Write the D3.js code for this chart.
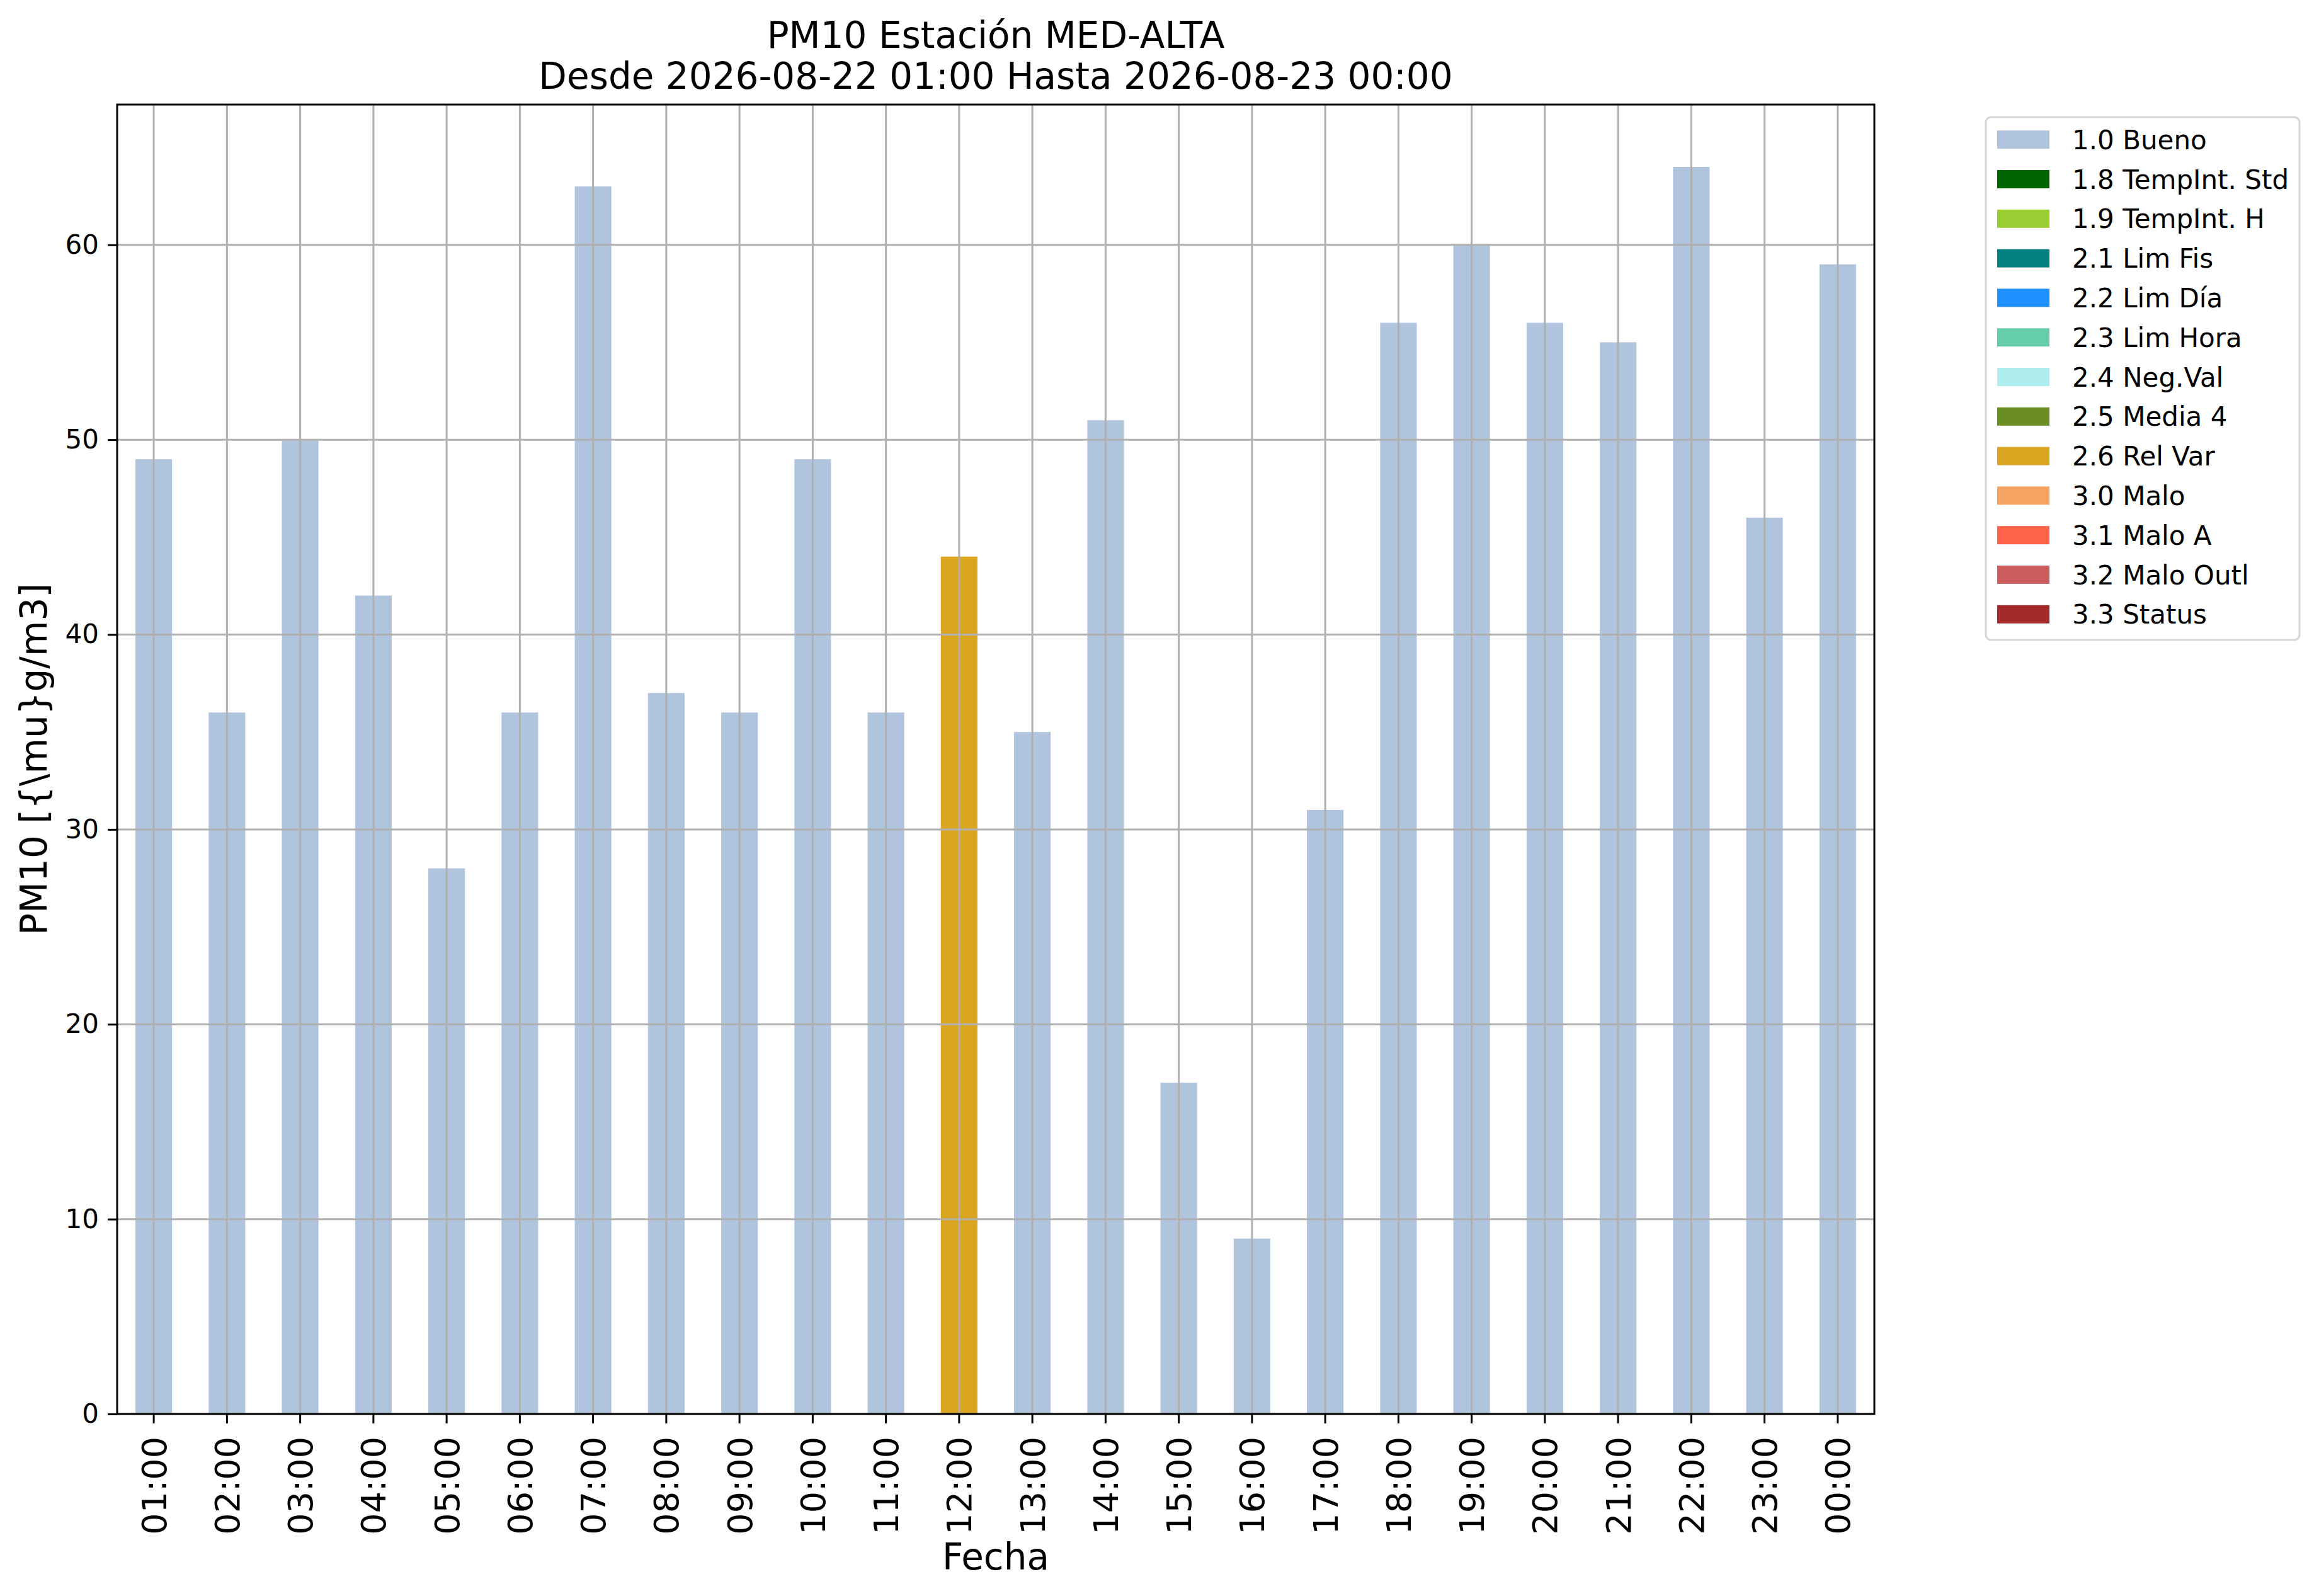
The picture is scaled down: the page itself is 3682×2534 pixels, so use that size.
<!DOCTYPE html>
<html>
<head>
<meta charset="utf-8">
<script src="https://cdn.jsdelivr.net/npm/d3@7"></script>
<style>
  body { margin: 0; background: #fff; }
  text { font-family: "DejaVu Sans", sans-serif; fill: #000; }
</style>
</head>
<body>
<svg id="chart" width="3682" height="2534"></svg>
<script>
var hours = ["01:00", "02:00", "03:00", "04:00", "05:00", "06:00", "07:00", "08:00",
             "09:00", "10:00", "11:00", "12:00", "13:00", "14:00", "15:00", "16:00",
             "17:00", "18:00", "19:00", "20:00", "21:00", "22:00", "23:00", "00:00"];
var pm10 = [49, 36, 50, 42, 28, 36, 63, 37, 36, 49, 36, 44,
            35, 51, 17, 9, 31, 56, 60, 56, 55, 64, 46, 59];
// quality flag of each hour
var flags = ["1.0", "1.0", "1.0", "1.0", "1.0", "1.0", "1.0", "1.0", "1.0", "1.0", "1.0", "2.6",
             "1.0", "1.0", "1.0", "1.0", "1.0", "1.0", "1.0", "1.0", "1.0", "1.0", "1.0", "1.0"];

var flagCodes = ["1.0", "1.8", "1.9", "2.1", "2.2", "2.3", "2.4", "2.5", "2.6", "3.0", "3.1", "3.2", "3.3"];
var flagNames = ["1.0 Bueno", "1.8 TempInt. Std", "1.9 TempInt. H", "2.1 Lim Fis", "2.2 Lim Día",
                 "2.3 Lim Hora", "2.4 Neg.Val", "2.5 Media 4", "2.6 Rel Var", "3.0 Malo",
                 "3.1 Malo A", "3.2 Malo Outl", "3.3 Status"];
var flagColors = ["#b0c4de", "#006400", "#9acd32", "#008080", "#1e90ff", "#66cdaa", "#afeeee",
                  "#6b8e23", "#daa520", "#f4a460", "#ff6347", "#cd5c5c", "#a52a2a"];
var yTicks = [0, 10, 20, 30, 40, 50, 60];

// plot box (window.top is taken, so no plain "top")
var pLeft = 186, pRight = 2976, pTop = 166, pBottom = 2245;
var svg = d3.select("#chart");

var x = d3.scaleBand()
  .domain(hours)
  .range([pLeft, pRight])
  .paddingInner(0.5)
  .paddingOuter(0.25);
var y = d3.scaleLinear()
  .domain([0, d3.max(pm10) * 1.05])
  .range([pBottom, pTop]);
var color = d3.scaleOrdinal()
  .domain(flagCodes)
  .range(flagColors);

// bars
svg.append("g")
  .selectAll("rect")
  .data(hours)
  .enter().append("rect")
  .attr("x", function(d) { return x(d); })
  .attr("width", x.bandwidth())
  .attr("y", function(d, i) { return y(pm10[i]); })
  .attr("height", function(d, i) { return y(0) - y(pm10[i]); })
  .attr("fill", function(d, i) { return color(flags[i]); });

// grid on top of the bars, like matplotlib does
var grid = svg.append("g")
  .attr("stroke", "#b0b0b0")
  .attr("stroke-width", 3);
grid.selectAll("line.gx")
  .data(hours)
  .enter().append("line")
  .attr("class", "gx")
  .attr("x1", function(d) { return x(d) + x.bandwidth() / 2; })
  .attr("x2", function(d) { return x(d) + x.bandwidth() / 2; })
  .attr("y1", pTop)
  .attr("y2", pBottom);
grid.selectAll("line.gy")
  .data(yTicks)
  .enter().append("line")
  .attr("class", "gy")
  .attr("x1", pLeft)
  .attr("x2", pRight)
  .attr("y1", function(d) { return y(d); })
  .attr("y2", function(d) { return y(d); });

// axes
var xAxis = svg.append("g")
  .attr("transform", "translate(0," + pBottom + ")")
  .call(d3.axisBottom(x).tickSize(15).tickSizeOuter(0));
xAxis.select(".domain").remove();
xAxis.selectAll(".tick line").attr("stroke", "#000").attr("stroke-width", 3);
xAxis.selectAll(".tick text")
  .attr("font-family", "DejaVu Sans")
  .attr("font-size", 54)
  .attr("transform", "rotate(-90)")
  .attr("text-anchor", "end")
  .attr("x", -36)
  .attr("y", 0)
  .attr("dy", "0.36em");

var yAxis = svg.append("g")
  .attr("transform", "translate(" + pLeft + ",0)")
  .call(d3.axisLeft(y).tickValues(yTicks).tickSize(15).tickPadding(14).tickSizeOuter(0));
yAxis.select(".domain").remove();
yAxis.selectAll(".tick line").attr("stroke", "#000").attr("stroke-width", 3);
yAxis.selectAll(".tick text")
  .attr("font-family", "DejaVu Sans")
  .attr("font-size", 42);

svg.append("rect")
  .attr("x", pLeft)
  .attr("y", pTop)
  .attr("width", pRight - pLeft)
  .attr("height", pBottom - pTop)
  .attr("fill", "none")
  .attr("stroke", "#000")
  .attr("stroke-width", 3);

// titles and labels
var cx = (pLeft + pRight) / 2;
svg.append("text")
  .attr("x", cx)
  .attr("y", 76)
  .attr("text-anchor", "middle")
  .attr("font-size", 58)
  .text("PM10 Estación MED-ALTA");
svg.append("text")
  .attr("x", cx)
  .attr("y", 141)
  .attr("text-anchor", "middle")
  .attr("font-size", 58)
  .text("Desde 2026-08-22 01:00 Hasta 2026-08-23 00:00");
svg.append("text")
  .attr("x", cx)
  .attr("y", 2492)
  .attr("text-anchor", "middle")
  .attr("font-size", 58)
  .text("Fecha");
svg.append("text")
  .attr("transform", "translate(74," + ((pTop + pBottom) / 2) + ") rotate(-90)")
  .attr("text-anchor", "middle")
  .attr("font-size", 58)
  .text("PM10 [{\\mu}g/m3]");

// legend
var legend = svg.append("g");
legend.append("rect")
  .attr("x", 3153)
  .attr("y", 186)
  .attr("width", 3651 - 3153)
  .attr("height", 1016 - 186)
  .attr("rx", 8)
  .attr("fill", "#fff")
  .attr("stroke", "#d6d6d6")
  .attr("stroke-width", 3);
var rows = legend.selectAll("g.row")
  .data(flagCodes)
  .enter().append("g")
  .attr("class", "row")
  .attr("transform", function(d, i) { return "translate(0," + (221.7 + i * 62.8) + ")"; });
rows.append("rect")
  .attr("x", 3171)
  .attr("y", -14.5)
  .attr("width", 83)
  .attr("height", 29)
  .attr("fill", function(d) { return color(d); });
rows.append("text")
  .attr("x", 3290)
  .attr("y", 15)
  .attr("font-size", 42)
  .text(function(d, i) { return flagNames[i]; });
</script>
</body>
</html>
